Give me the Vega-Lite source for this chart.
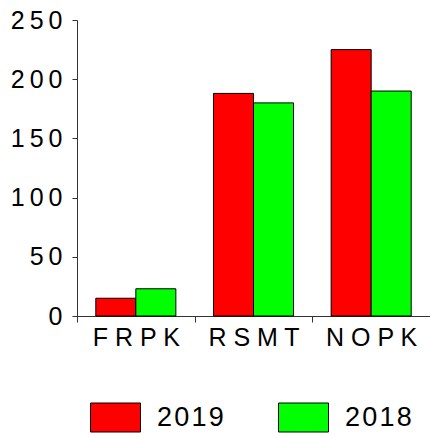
{
  "$schema": "https://vega.github.io/schema/vega-lite/v6.json",
  "width": 353,
  "height": 296,
  "autosize": {"type": "none"},
  "padding": {"left": 77, "top": 20, "right": 0, "bottom": 121},
  "background": "white",
  "data": {
    "values": [
      {"site": "FRPK", "year": "2019", "value": 15},
      {"site": "FRPK", "year": "2018", "value": 23},
      {"site": "RSMT", "year": "2019", "value": 188},
      {"site": "RSMT", "year": "2018", "value": 180},
      {"site": "NOPK", "year": "2019", "value": 225},
      {"site": "NOPK", "year": "2018", "value": 190}
    ]
  },
  "mark": {"type": "bar", "stroke": "black", "strokeWidth": 1},
  "encoding": {
    "x": {
      "field": "site",
      "type": "nominal",
      "sort": ["FRPK", "RSMT", "NOPK"],
      "scale": {"paddingInner": 0, "paddingOuter": 0},
      "axis": {
        "title": null,
        "labelAngle": 0,
        "tickBand": "extent",
        "tickSize": 6,
        "labelPadding": 3,
        "labelBaseline": "top",
        "labelExpr": "join(split(datum.label, ''), ' ')"
      }
    },
    "xOffset": {
      "field": "year",
      "type": "nominal",
      "scale": {"domain": ["2019", "2018"], "paddingInner": 0, "paddingOuter": 0.47}
    },
    "y": {
      "field": "value",
      "type": "quantitative",
      "scale": {"domain": [0, 250], "nice": false},
      "axis": {
        "title": null,
        "values": [0, 50, 100, 150, 200, 250],
        "grid": false,
        "tickSize": 5,
        "labelPadding": 10,
        "labelExpr": "join(split(datum.label, ''), '\u2009')"
      }
    },
    "color": {
      "field": "year",
      "type": "nominal",
      "scale": {"domain": ["2019", "2018"], "range": ["#ff0000", "#00ff00"]},
      "legend": {
        "title": null,
        "orient": "none",
        "direction": "horizontal",
        "legendX": 13,
        "legendY": 372,
        "padding": 0,
        "symbolType": "M-1,-0.58H1V0.58H-1Z",
        "symbolSize": 2500,
        "symbolStrokeColor": "black",
        "symbolStrokeWidth": 1,
        "symbolOpacity": 1,
        "labelFont": "Liberation Sans",
        "labelFontSize": 27,
        "labelColor": "black",
        "labelOffset": 16,
        "columnPadding": 52,
        "labelExpr": "join(split(datum.label, ''), '\u200a')"
      }
    }
  },
  "config": {
    "view": {"stroke": null},
    "axis": {
      "labelFont": "Liberation Sans",
      "labelFontSize": 25,
      "labelColor": "black",
      "domainColor": "#333333",
      "tickColor": "#333333",
      "domainWidth": 1,
      "tickWidth": 1
    }
  }
}
